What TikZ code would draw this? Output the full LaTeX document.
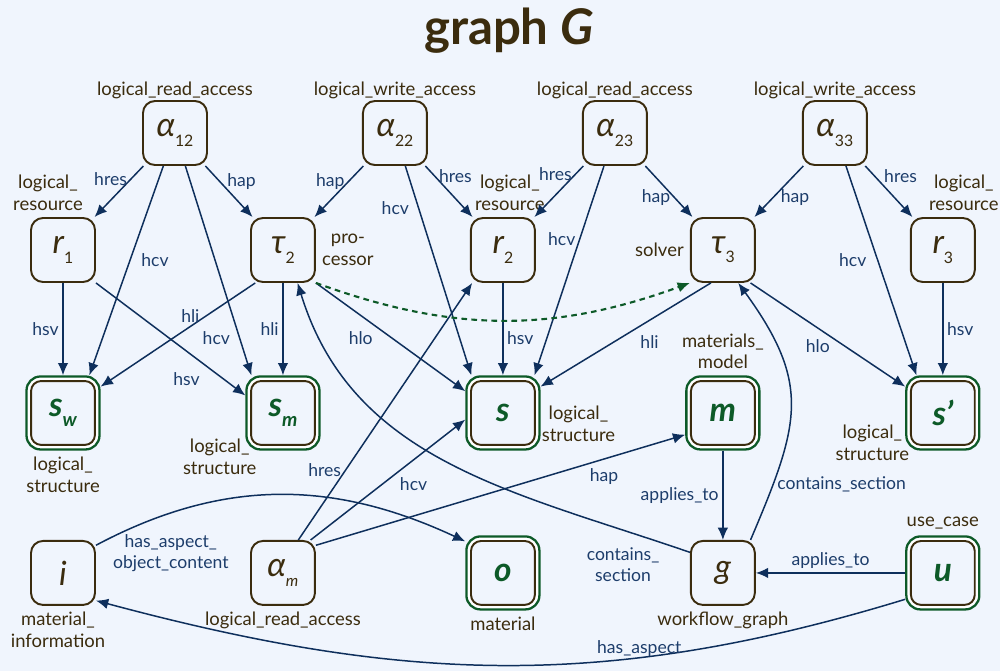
\documentclass[tikz,border=0pt]{standalone}
\usepackage{fontspec}
\setmainfont{Lato}
\usetikzlibrary{positioning, arrows.meta}
\definecolor{bg}{HTML}{F0F5FD}
\definecolor{ink}{HTML}{3B2C0E}
\definecolor{navy}{HTML}{0E2F5C}
\definecolor{lnavy}{HTML}{1D3D6B}
\definecolor{leaf}{HTML}{0D5A28}
\newcommand{\lowidx}[2][9]{\raisebox{-0.55ex}{\fontsize{#1}{#1}\selectfont #2}}

\begin{document}
\begin{tikzpicture}[x=0.02cm, y=0.02cm,
  obj/.style={draw=ink, line width=1.1pt, rounded corners=0.24cm, fill=bg, minimum size=1.28cm, inner sep=0pt, text=ink, font=\fontsize{19}{22}\selectfont\itshape, on grid},
  term/.style={draw=leaf, line width=1.3pt, rounded corners=0.28cm, fill=white, minimum size=1.46cm, inner sep=0pt, text=leaf, font=\fontsize{19}{22}\selectfont\bfseries\itshape, on grid,
    path picture={\draw[ink, line width=1.1pt, fill=bg, rounded corners=0.2cm] ([shift={(2.6pt,-2.6pt)}]path picture bounding box.north west) rectangle ([shift={(-2.6pt,2.6pt)}]path picture bounding box.south east);}},
  lab/.style={text=ink, font=\fontsize{10.5}{12.5}\selectfont, align=center},
  elab/.style={text=lnavy, font=\fontsize{10}{12}\selectfont, align=center, inner sep=2pt},
  rel/.style={draw=navy, line width=0.85pt, -{Latex[length=7pt, width=6pt]}},
  flow/.style={draw=leaf, line width=1.2pt, dash pattern=on 3.2pt off 2.5pt, -{Latex[length=7pt, width=6pt]}}]
\fill[bg] (0,0) rectangle (1000,-671);
\useasboundingbox (0,0) rectangle (1000,-671);
\node[text=ink, font=\fontsize{28}{32}\selectfont\bfseries] (title) at (509,-31) {graph \textit{G}};

% second row: resources and processors
\node[obj, label={[lab, xshift=-0.3cm]above:{logical\_\\resource}}] (r1) at (63,-250) {r\lowidx{\upshape 1}};
\node[obj, right=4.4cm of r1, label={[lab]right:{pro-\\cessor}}] (tau2) {τ\lowidx{\upshape 2}};
\node[obj, right=4.4cm of tau2, label={[lab, xshift=0.14cm]above:{logical\_\\resource}}] (r2) {r\lowidx{\upshape 2}};
\node[obj, right=4.4cm of r2, label={[lab]left:solver}] (tau3) {τ\lowidx{\upshape 3}};
\node[obj, right=4.4cm of tau3, label={[lab, xshift=0.42cm]above:{logical\_\\resource}}] (r3) {r\lowidx{\upshape 3}};

% accesses on top
\node[obj, above right=2.34cm and 2.24cm of r1, label={[lab, yshift=-0.1cm]above:logical\_read\_access}] (a12) {α\lowidx{\upshape 12}};
\node[obj, above right=2.34cm and 2.24cm of tau2, label={[lab, yshift=-0.1cm]above:logical\_write\_access}] (a22) {α\lowidx{\upshape 22}};
\node[obj, above right=2.34cm and 2.24cm of r2, label={[lab, yshift=-0.1cm]above:logical\_read\_access}] (a23) {α\lowidx{\upshape 23}};
\node[obj, above right=2.34cm and 2.24cm of tau3, label={[lab, yshift=-0.1cm]above:logical\_write\_access}] (a33) {α\lowidx{\upshape 33}};

% structures
\node[term, below=3.26cm of r1, label={[lab]below:{logical\_\\structure}}] (sw) {s\lowidx[11]{w}};
\node[term, below=3.26cm of tau2, label={[lab, xshift=0.12cm, yshift=0.36cm]235:{logical\_\\structure}}] (sm) {s\lowidx[11]{m}};
\node[term, below=3.26cm of r2, label={[lab, xshift=-0.1cm, yshift=-0.22cm]right:{logical\_\\structure}}] (s) {s};
\node[term, below=3.26cm of tau3, label={[lab]above:{materials\_\\model}}] (m) {m};
\node[term, below=3.26cm of r3, label={[lab, xshift=0.2cm, yshift=0.24cm]205:{logical\_\\structure}}] (sp) {s’};

% bottom row
\node[obj, below=3.2cm of sw, label={[lab, xshift=-0.1cm]below:{material\_\\information}}] (i) {i};
\node[obj, below=3.2cm of sm, label={[lab]below:logical\_read\_access}] (am) {α\lowidx{\itshape m}};
\node[term, below=3.2cm of s, label={[lab]below:material}] (o) {o};
\node[obj, below=3.2cm of m, label={[lab]below:workflow\_graph}] (g) {g};
\node[term, below=3.2cm of sp, label={[lab]above:use\_case}] (u) {u};

\draw[rel] (a12) -- node[elab, pos=.25, left] {hres} (r1);
\draw[rel] (a12) -- node[elab, pos=.3, right=2pt] {hap} (tau2);
\draw[rel] (a12) -- node[elab, pos=.45, right, xshift=4pt] {hcv} (sw.55);
\draw[rel] (a12) -- node[elab, pos=.82, left=3pt] {hcv} (sm.130);
\draw[rel] (r1) -- node[elab, left] {hsv} (sw);
\draw[rel] (r1.-45) -- node[elab, pos=.74, below left=2pt] {hsv} (sm.155);
\draw[rel] (tau2.-130) -- node[elab, pos=.42, above] {hli} (sw.35);
\draw[rel] (tau2) -- node[elab, left] {hli} (sm);
\draw[rel] (tau2.-45) -- node[elab, pos=.3, below=7pt] {hlo} (s.150);
\draw[rel] (a22) -- node[elab, pos=.3, left] {hap} (tau2);
\draw[rel] (a22) -- node[elab, pos=.2, right] {hres} (r2);
\draw[rel] (a22) -- node[elab, pos=.2, left=3pt] {hcv} (s.130);
\draw[rel] (a23) -- node[elab, pos=.15, left] {hres} (r2);
\draw[rel] (a23) -- node[elab, pos=.62, left] {hap} (tau3);
\draw[rel] (a23) -- node[elab, pos=.35, left] {hcv} (s.50);
\draw[rel] (r2) -- node[elab, pos=.6, right] {hsv} (s);
\draw[rel] (tau3.-110) -- node[elab, pos=.36, below=6pt] {hli} (s.35);
\draw[rel] (tau3.-50) -- node[elab, pos=.435, below=4pt] {hlo} (sp.145);
\draw[rel] (a33) -- node[elab, pos=.62, right=2pt] {hap} (tau3);
\draw[rel] (a33) -- node[elab, pos=.2, right=3pt] {hres} (r3);
\draw[rel] (a33) -- node[elab, pos=.45, left=4pt] {hcv} (sp.125);
\draw[rel] (r3) -- node[elab, right] {hsv} (sp);
\draw[rel] (am.65) -- node[elab, pos=.27, left] {hres} (r2.-133);
\draw[rel] (am.50) -- node[elab, pos=.55, below right] {hcv} (s.190);
\draw[rel] (am.40) -- node[elab, pos=.78, below=3pt] {hap} (m.-150);
\draw[rel] (m) -- node[elab, left] {applies\_to} (g);
\draw[rel] (u) -- node[elab, above] {applies\_to} (g);
\draw[rel] (g.148) to[out=161, in=-73] node[elab, pos=.05, below left] {contains\_\\section} (tau2.-66);
\draw[rel] (g.50) to[out=67, in=-54, looseness=1.25] node[elab, pos=.18, right] {contains\_section} (tau3.-65);
\draw[rel] (u.-145) to[out=-163, in=-15] node[elab, pos=.32, above, yshift=-2pt] {has\_aspect} (i.-40);
\draw[rel] (i.40) to[out=28, in=155] node[elab, pos=.2, below=10pt] {has\_aspect\_\\object\_content} (o.140);
\draw[flow] (tau2.-45) to[out=-20, in=-160] (tau3.-135);
\end{tikzpicture}
\end{document}
